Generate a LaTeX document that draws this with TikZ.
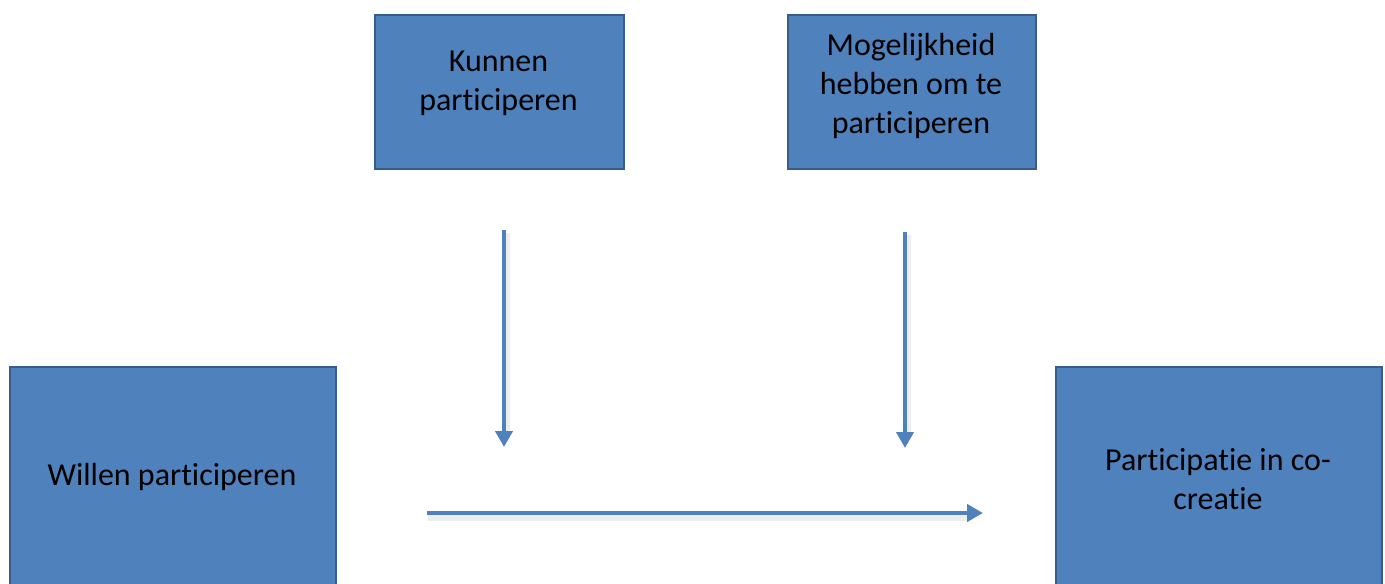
\documentclass[tikz,border=0pt]{standalone}
\usepackage{fontspec}
\setmainfont[RawFeature={-liga,-clig,-calt,-dlig}]{Carlito}
\usetikzlibrary{arrows.meta}
\definecolor{boxfill}{HTML}{4F81BD}
\definecolor{boxline}{HTML}{385D8A}
\begin{document}
\begin{tikzpicture}[x=0.5pt,y=-0.5pt,
  box/.style={draw=boxline,line width=1pt,fill=boxfill,anchor=north west,inner sep=0pt},
  lbl/.style={align=center,font=\fontsize{16}{19.5}\selectfont,text=black},
  flow/.style={draw=boxfill,line width=2.4pt,-{Triangle[width=8.5pt,length=8pt]}},
  shade/.style={draw=black,opacity=0.07,line width=3pt}]
\useasboundingbox (0,0) rectangle (1385,583);
\fill[white] (0,0) rectangle (1385,583);
\node[box,minimum width=124.5pt,minimum height=77pt] (kunnen) at (374,14) {};
\node[lbl] (kunnentxt) at (498.5,83) {Kunnen\\participeren};
\node[box,minimum width=124pt,minimum height=77pt] (mogelijk) at (787,14) {};
\node[lbl] (mogelijktxt) at (911,86) {Mogelijkheid\\hebben om te\\participeren};
\node[box,minimum width=163pt,minimum height=125pt] (willen) at (9,366) {};
\node[lbl] (willentxt) at (172,477) {Willen participeren};
\node[box,minimum width=163pt,minimum height=125pt] (part) at (1055,366) {};
\node[lbl] (parttxt) at (1218,479) {Participatie in co-\\creatie};
\coordinate (a1s) at (504,230);
\coordinate (a1e) at (504,447);
\coordinate (a2s) at (905,232);
\coordinate (a2e) at (905,448);
\coordinate (a3s) at (427,513);
\coordinate (a3e) at (983,513);
\draw[shade] ([shift={(3,3)}]a1s) -- ([shift={(3,-14)}]a1e);
\draw[shade] ([shift={(3,3)}]a2s) -- ([shift={(3,-14)}]a2e);
\draw[shade] ([shift={(1,5)}]a3s) -- ([shift={(-14,5)}]a3e);
\draw[flow] (a1s) -- (a1e);
\draw[flow] (a2s) -- (a2e);
\draw[flow] (a3s) -- (a3e);
\end{tikzpicture}
\end{document}
